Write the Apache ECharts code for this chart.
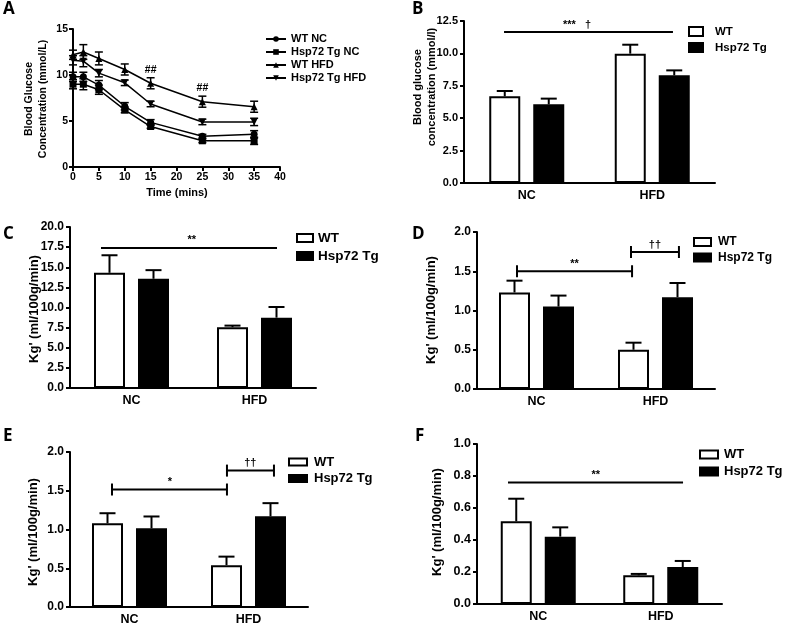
<!DOCTYPE html>
<html><head><meta charset="utf-8">
<script src="https://cdn.jsdelivr.net/npm/echarts@6/dist/echarts.min.js"></script>
<style>html,body{margin:0;padding:0;background:#fff}#c{width:787px;height:626px}</style>
</head><body><div id="c"></div>
<script>
// ---------- Panel A data ----------
const timeMins = [0, 2, 5, 10, 15, 25, 35];
const wtNC     = [9.8, 9.8, 8.9, 6.6, 4.85, 3.35, 3.55];
const wtNCErr  = [0.5, 0.5, 0.5, 0.4, 0.3, 0.2, 0.4];
const tgNC     = [9.0, 9.0, 8.4, 6.2, 4.4, 2.85, 2.85];
const tgNCErr  = [0.5, 0.6, 0.5, 0.3, 0.2, 0.2, 0.4];
const wtHFD    = [12.2, 12.5, 11.8, 10.6, 9.1, 7.1, 6.55];
const wtHFDErr = [0.5, 0.8, 0.7, 0.6, 0.6, 0.6, 0.6];
const tgHFD    = [11.6, 11.5, 10.2, 9.15, 6.85, 4.9, 4.9];
const tgHFDErr = [0.5, 0.6, 0.4, 0.3, 0.3, 0.3, 0.4];
const hashX = [15, 25];
const hashY = [10.5, 8.6];

// ---------- Bar panels data ----------
const groups = ['NC', 'HFD'];
const bWT = [6.69, 9.98],  bWTErr = [0.41, 0.69];
const bTg = [6.07, 8.31],  bTgErr = [0.44, 0.38];
const cWT = [14.31, 7.55], cWTErr = [2.18, 0.2];
const cTg = [13.57, 8.74], cTgErr = [1.07, 1.32];
const dWT = [1.23, 0.50],  dWTErr = [0.15, 0.09];
const dTg = [1.05, 1.17],  dTgErr = [0.14, 0.18];
const eWT = [1.08, 0.54],  eWTErr = [0.13, 0.11];
const eTg = [1.015, 1.17], eTgErr = [0.153, 0.17];
const fWT = [0.517, 0.179], fWTErr = [0.141, 0.009];
const fTg = [0.421, 0.231], fTgErr = [0.058, 0.038];

// significance annotations (x in category units, y in data units)
const bSig = [{x1: -0.181, x2: 1.165, y: 11.65, lx: 0.40, label: '***   \u2020', ticks: false}];
const cSig = [{x1: -0.248, x2: 1.183, y: 17.4, lx: 0.49, label: '**', ticks: false}];
const dSig = [{x1: -0.164, x2: 0.803, y: 1.50, lx: 0.32, label: '**', ticks: true},
              {x1: 0.794, x2: 1.197, y: 1.745, lx: 0.995, label: '\u2020\u2020', ticks: true}];
const eSig = [{x1: -0.147, x2: 0.819, y: 1.516, lx: 0.34, label: '*', ticks: true},
              {x1: 0.819, x2: 1.214, y: 1.76, lx: 1.015, label: '\u2020\u2020', ticks: true}];
const fSig = [{x1: -0.247, x2: 1.182, y: 0.76, lx: 0.47, label: '**', ticks: false}];

// ---------- Build ----------
const FONT = '"Liberation Sans", Arial, sans-serif';
const BAR_W = 31, BAR_GAP_PX = 13, OFF = (BAR_W + BAR_GAP_PX) / 2;
const grids = [], xAxes = [], yAxes = [], series = [], legends = [], graphics = [];
const axLine = {show: true, onZero: false, lineStyle: {color: '#000', width: 2}};
const axTick = {show: true, length: 4, lineStyle: {color: '#000', width: 2}};

function errSeries(xi, yi, xs, vals, errs, off, capW, both, lw) {
  return {
    type: 'custom', xAxisIndex: xi, yAxisIndex: yi, silent: true, z: 4, clip: false,
    data: vals.map((v, i) => [xs[i], v, errs[i]]),
    renderItem: (params, api) => {
      const x = api.value(0), v = api.value(1), e = api.value(2);
      const top = api.coord([x, v + e]);
      const bot = api.coord([x, both ? v - e : v]);
      const cx = top[0] + off;
      const st = {stroke: '#000', lineWidth: lw};
      const ch = [
        {type: 'line', shape: {x1: cx, y1: bot[1], x2: cx, y2: top[1]}, style: st},
        {type: 'line', shape: {x1: cx - capW / 2, y1: top[1], x2: cx + capW / 2, y2: top[1]}, style: st}
      ];
      if (both) ch.push({type: 'line', shape: {x1: cx - capW / 2, y1: bot[1], x2: cx + capW / 2, y2: bot[1]}, style: st});
      return {type: 'group', children: ch};
    }
  };
}

function sigSeries(xi, yi, items) {
  return {
    type: 'custom', xAxisIndex: xi, yAxisIndex: yi, silent: true, z: 6, clip: false,
    data: items.map(s => [s.x1, s.x2, s.y]),
    encode: {x: [0, 1], y: 2},
    renderItem: (params, api) => {
      const s = items[params.dataIndex];
      const a = api.coord([s.x1, s.y]), b = api.coord([s.x2, s.y]);
      const st = {stroke: '#000', lineWidth: 2};
      const ch = [{type: 'line', shape: {x1: a[0], y1: a[1], x2: b[0], y2: b[1]}, style: st}];
      if (s.ticks) {
        ch.push({type: 'line', shape: {x1: a[0], y1: a[1] - 6, x2: a[0], y2: a[1] + 6}, style: st});
        ch.push({type: 'line', shape: {x1: b[0], y1: b[1] - 6, x2: b[0], y2: b[1] + 6}, style: st});
      }
      const lx = api.coord([s.lx, s.y])[0];
      ch.push({type: 'text', x: lx, y: a[1] - 2, style: {text: s.label, fill: '#000',
        font: 'bold 11px ' + FONT, align: 'center', verticalAlign: 'bottom'}});
      return {type: 'group', children: ch};
    }
  };
}

// Panel A
grids.push({left: 73, top: 29, width: 207, height: 138});
xAxes.push({gridIndex: 0, type: 'value', min: 0, max: 40, interval: 5, axisLine: axLine, axisTick: axTick,
  splitLine: {show: false}, axisLabel: {color: '#000', fontWeight: 'bold', fontSize: 10.5, fontFamily: FONT, margin: 5}});
yAxes.push({gridIndex: 0, type: 'value', min: 0, max: 15, interval: 5, axisLine: axLine, axisTick: axTick,
  splitLine: {show: false}, axisLabel: {color: '#000', fontWeight: 'bold', fontSize: 10.5, fontFamily: FONT, margin: 5}});
const lineDefs = [
  ['WT NC', wtNC, wtNCErr, 'circle'],
  ['Hsp72 Tg NC', tgNC, tgNCErr, 'rect'],
  ['WT HFD', wtHFD, wtHFDErr, 'triangle'],
  ['Hsp72 Tg HFD', tgHFD, tgHFDErr, 'path://M0,0 L10,0 L5,9 Z']
];
lineDefs.forEach(d => {
  series.push({type: 'line', name: d[0], xAxisIndex: 0, yAxisIndex: 0, z: 3,
    data: timeMins.map((t, i) => [t, d[1][i]]), symbol: d[3], symbolSize: 7,
    lineStyle: {color: '#000', width: 1.5}, itemStyle: {color: '#000'}});
  series.push(errSeries(0, 0, timeMins, d[1], d[2], 0, 8, true, 1.5));
});
series.push({type: 'custom', xAxisIndex: 0, yAxisIndex: 0, silent: true, z: 6,
  data: hashX.map((x, i) => [x, hashY[i]]),
  renderItem: (params, api) => {
    const p = api.coord([api.value(0), api.value(1)]);
    return {type: 'text', x: p[0], y: p[1], style: {text: '##', fill: '#000', font: 'bold 10.5px ' + FONT, align: 'center', verticalAlign: 'middle'}};
  }});
legends.push({orient: 'vertical', left: 265, top: 33, padding: 0, itemWidth: 20, itemHeight: 7, itemGap: 1,
  selectedMode: false, data: ['WT NC', 'Hsp72 Tg NC', 'WT HFD', 'Hsp72 Tg HFD'],
  textStyle: {color: '#000', fontWeight: 'bold', fontSize: 11, fontFamily: FONT, lineHeight: 12}});

function barPanel(p) {
  const gi = grids.length;
  grids.push(p.grid);
  const xc = xAxes.length;
  xAxes.push({gridIndex: gi, type: 'category', data: groups, axisLine: axLine, axisTick: {show: false},
    axisLabel: {color: '#000', fontWeight: 'bold', fontSize: 12.5, fontFamily: FONT, margin: 6}});
  const xv = xAxes.length;
  xAxes.push({gridIndex: gi, type: 'value', min: -0.5, max: 1.5, show: false, axisLine: {onZero: false}});
  const yi = yAxes.length;
  yAxes.push({gridIndex: gi, type: 'value', min: 0, max: p.yMax, interval: p.interval, axisLine: axLine, axisTick: axTick,
    splitLine: {show: false},
    axisLabel: {color: '#000', fontWeight: 'bold', fontSize: p.tickFont, fontFamily: FONT, margin: 6,
      formatter: v => v.toFixed(p.dec)}});
  series.push({type: 'bar', name: 'WT', xAxisIndex: xc, yAxisIndex: yi, data: p.wt, barWidth: BAR_W,
    barGap: (BAR_GAP_PX / BAR_W * 100) + '%', itemStyle: {color: '#fff', borderColor: '#000', borderWidth: 2}, z: 2});
  series.push({type: 'bar', name: 'Hsp72 Tg', xAxisIndex: xc, yAxisIndex: yi, data: p.tg, barWidth: BAR_W,
    barGap: (BAR_GAP_PX / BAR_W * 100) + '%', itemStyle: {color: '#000', borderColor: '#000', borderWidth: 2}, z: 2});
  series.push(errSeries(xc, yi, [0, 1], p.wt, p.wtErr, -OFF, 16, false, 2));
  series.push(errSeries(xc, yi, [0, 1], p.tg, p.tgErr, OFF, 16, false, 2));
  series.push(sigSeries(xv, yi, p.sig));
  legends.push({orient: 'vertical', left: p.lg.left, top: p.lg.top, padding: 0, itemWidth: p.lg.w, itemHeight: p.lg.h,
    itemGap: p.lg.gap, selectedMode: false, icon: 'rect',
    data: [{name: 'WT', itemStyle: {color: '#fff', borderColor: '#000', borderWidth: 2}},
           {name: 'Hsp72 Tg', itemStyle: {color: '#000', borderColor: '#000', borderWidth: 2}}],
    textStyle: {color: '#000', fontWeight: 'bold', fontSize: p.lg.fs, fontFamily: FONT, lineHeight: 12, padding: [0, 0, 0, p.lg.pad]}});
}

barPanel({grid: {left: 464, top: 21, width: 251, height: 162}, yMax: 12.5, interval: 2.5, dec: 1, tickFont: 11,
  wt: bWT, wtErr: bWTErr, tg: bTg, tgErr: bTgErr, sig: bSig,
  lg: {left: 688, top: 25.5, w: 14, h: 9, gap: 4, fs: 11.5, pad: 7}});
barPanel({grid: {left: 70, top: 227, width: 246, height: 161}, yMax: 20, interval: 2.5, dec: 1, tickFont: 12,
  wt: cWT, wtErr: cWTErr, tg: cTg, tgErr: cTgErr, sig: cSig,
  lg: {left: 296, top: 231, w: 16, h: 8, gap: 4, fs: 13.5, pad: 0}});
barPanel({grid: {left: 477, top: 232, width: 238, height: 157}, yMax: 2, interval: 0.5, dec: 1, tickFont: 12,
  wt: dWT, wtErr: dWTErr, tg: dTg, tgErr: dTgErr, sig: dSig,
  lg: {left: 693, top: 236, w: 17, h: 8, gap: 3.5, fs: 12, pad: 2}});
barPanel({grid: {left: 70, top: 452, width: 238, height: 157}, yMax: 2, interval: 0.5, dec: 1, tickFont: 12,
  wt: eWT, wtErr: eWTErr, tg: eTg, tgErr: eTgErr, sig: eSig,
  lg: {left: 288, top: 455.5, w: 18, h: 7, gap: 3.5, fs: 13, pad: 2}});
barPanel({grid: {left: 477, top: 444, width: 245, height: 160}, yMax: 1, interval: 0.2, dec: 1, tickFont: 12.5,
  wt: fWT, wtErr: fWTErr, tg: fTg, tgErr: fTgErr, sig: fSig,
  lg: {left: 699, top: 448, w: 18, h: 8, gap: 4, fs: 13, pad: 1}});

// Panel letters & axis titles
const letters = [['A', 3, 9], ['B', 412, 9], ['C', 3, 234], ['D', 412, 234], ['E', 3, 436], ['F', 415, 436]];
letters.forEach(l => graphics.push({type: 'text', x: l[1], y: l[2], style: {text: l[0], fill: '#000',
  font: 'bold 17px "Open Sans", sans-serif', align: 'left', verticalAlign: 'middle'}}));
const yTitles = [
  ['Blood Glucose\nConcentration (mmol/L)', 36, 99, 10.5, 14],
  ['Blood glucose\nconcentration (mmol/l)', 424.5, 87, 11, 14],
  ["Kg' (ml/100g/min)", 34, 309, 13, 14],
  ["Kg' (ml/100g/min)", 431, 310, 13, 14],
  ["Kg' (ml/100g/min)", 33.5, 532, 13, 14],
  ["Kg' (ml/100g/min)", 437, 522, 13, 14]
];
yTitles.forEach(t => graphics.push({type: 'text', x: t[1], y: t[2], rotation: Math.PI / 2,
  style: {text: t[0], fill: '#000', font: 'bold ' + t[3] + 'px ' + FONT, lineHeight: t[4], align: 'center', verticalAlign: 'middle'}}));
graphics.push({type: 'text', x: 177, y: 193, style: {text: 'Time (mins)', fill: '#000',
  font: 'bold 11px ' + FONT, align: 'center', verticalAlign: 'middle'}});

const chart = echarts.init(document.getElementById('c'));
chart.setOption({
  animation: false,
  backgroundColor: '#fff',
  grid: grids, xAxis: xAxes, yAxis: yAxes, series: series, legend: legends, graphic: graphics
});
</script>
</body></html>
